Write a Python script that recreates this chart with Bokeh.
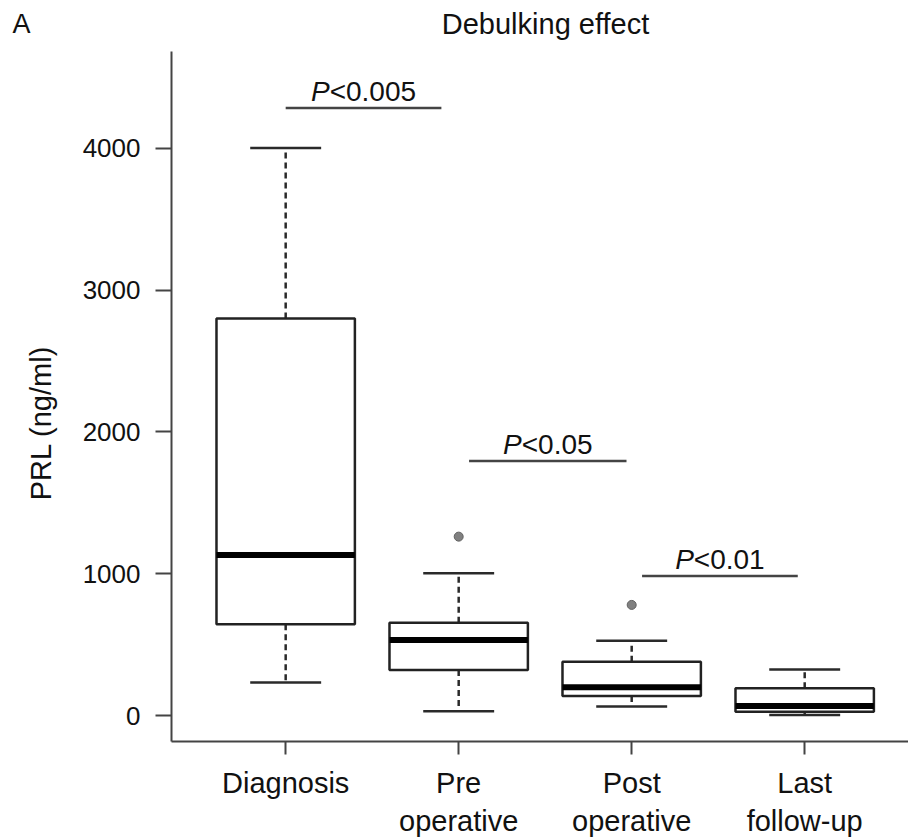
import math
from bokeh.plotting import figure
from bokeh.layouts import column, row
from bokeh.models import FixedTicker, ColumnDataSource
from bokeh.core.properties import value
from bokeh.embed import file_html
from bokeh.resources import INLINE

# ---- data ----
categories = ["Diagnosis", "Pre\noperative", "Post\noperative", "Last\nfollow-up"]
positions = [1, 2, 3, 4]
whisker_low = [235, 33, 66, 7]
q1 = [645, 324, 141, 30]
median = [1134, 535, 202, 70]
q3 = [2800, 657, 382, 195]
whisker_high = [4000, 1005, 530, 328]
outlier_x = [2, 3]
outlier_y = [1263, 782]
y_ticks = [0, 1000, 2000, 3000, 4000]

p_x0 = [1.0, 2.06, 3.06]
p_x1 = [1.9, 2.97, 3.96]
p_y = [4282, 1796, 986]
p_labels = ["<0.005", "<0.05", "<0.01"]

title_text = "Debulking effect"
panel_letter = "A"
y_label = "PRL (ng/ml)"

FONT = "Liberation Sans"
TXT = "#111111"
AX = "#444444"

HEADER_H = 44
STRIP_W = 70
TOTAL_W = 908


def blank(w, h, xr, yr):
    f = figure(width=w, height=h, x_range=xr, y_range=yr,
               output_backend="svg", toolbar_location=None,
               min_border=0, background_fill_color="white",
               border_fill_color="white")
    f.axis.visible = False
    f.grid.visible = False
    f.outline_line_color = None
    return f


# header row: panel letter and title
head = blank(TOTAL_W, HEADER_H, (0, TOTAL_W), (0, HEADER_H))
head.text(x=[12], y=[HEADER_H - 23.5], text=[panel_letter],
          text_align="left", text_baseline="middle",
          text_font=value(FONT), text_font_size="27px", text_color=TXT)
head.text(x=[545], y=[HEADER_H - 23.5], text=[title_text],
          text_align="center", text_baseline="middle",
          text_font=value(FONT), text_font_size="29px", text_color=TXT)

# main plot
MAIN_TOP = 7
FRAME_H = 690
FRAME_W = 737
MAIN_LEFT = 171 - STRIP_W
MAIN_BOTTOM = 839 - HEADER_H - MAIN_TOP - FRAME_H

p = figure(frame_width=FRAME_W, frame_height=FRAME_H,
           x_range=(0.34, 4.60), y_range=(-180, 4680),
           output_backend="svg", toolbar_location=None,
           min_border_left=MAIN_LEFT, min_border_right=0,
           min_border_top=MAIN_TOP, min_border_bottom=MAIN_BOTTOM,
           background_fill_color="white", border_fill_color="white")
p.outline_line_color = None
p.xgrid.visible = False
p.ygrid.visible = False

for ax in (p.xaxis[0], p.yaxis[0]):
    ax.axis_line_width = 2
    ax.axis_line_color = AX
    ax.major_tick_line_width = 2
    ax.major_tick_line_color = AX
    ax.major_tick_in = 0
    ax.minor_tick_line_color = None
    ax.major_label_text_font = FONT
    ax.major_label_text_color = TXT

p.xaxis.ticker = FixedTicker(ticks=positions)
p.xaxis.major_label_overrides = {pos: lab for pos, lab in zip(positions, categories)}
p.xaxis.major_tick_out = 13
p.xaxis.major_label_standoff = 12
p.xaxis.major_label_text_font_size = "29px"

p.yaxis.ticker = FixedTicker(ticks=y_ticks)
p.yaxis.major_tick_out = 16
p.yaxis.major_label_standoff = 15
p.yaxis.major_label_text_font_size = "26px"

half_box = 0.4
half_cap = 0.205
src = ColumnDataSource(dict(
    x=positions,
    left=[x - half_box for x in positions],
    right=[x + half_box for x in positions],
    cl=[x - half_cap for x in positions],
    cr=[x + half_cap for x in positions],
    lo=whisker_low, q1=q1, med=median, q3=q3, hi=whisker_high,
))

WH = "#2a2a2a"
p.segment(x0="x", y0="q3", x1="x", y1="hi", source=src,
          line_color=WH, line_width=2.5, line_dash="6 4")
p.segment(x0="x", y0="q1", x1="x", y1="lo", source=src,
          line_color=WH, line_width=2.5, line_dash="6 4")
p.segment(x0="cl", y0="hi", x1="cr", y1="hi", source=src,
          line_color=WH, line_width=2.5)
p.segment(x0="cl", y0="lo", x1="cr", y1="lo", source=src,
          line_color=WH, line_width=2.5)
p.quad(left="left", right="right", bottom="q1", top="q3", source=src,
       fill_color="white", line_color="#222222", line_width=2.5)
p.segment(x0="left", y0="med", x1="right", y1="med", source=src,
          line_color="black", line_width=6, line_cap="butt")
p.scatter(outlier_x, outlier_y, size=9, marker="circle",
          fill_color="#808080", line_color="#606060", line_width=1)

# significance bars
p.segment(x0=p_x0, y0=p_y, x1=p_x1, y1=p_y, line_color=AX, line_width=2.5)

PFS = 28
pfs = f"{PFS}px"
wP = 0.667 * PFS
char_w = {"<": 0.584, "0": 0.556, ".": 0.278, "5": 0.556, "1": 0.556}
cx = [(a + b) / 2 for a, b in zip(p_x0, p_x1)]
ty = [y + 118 for y in p_y]
offs = []
for lab in p_labels:
    wr = sum(char_w[c] for c in lab) * PFS
    offs.append(-(wP + wr) / 2 + wP)
tsrc = ColumnDataSource(dict(x=cx, y=ty, lab=p_labels, off=offs))
p.text(x="x", y="y", text=value("P"), x_offset="off", source=tsrc,
       text_align="right", text_baseline="alphabetic",
       text_font=value(FONT), text_font_style="italic",
       text_font_size=pfs, text_color=TXT)
p.text(x="x", y="y", text="lab", x_offset="off", source=tsrc,
       text_align="left", text_baseline="alphabetic",
       text_font=value(FONT), text_font_size=pfs, text_color=TXT)

# left strip with the y-axis title
STRIP_H = MAIN_TOP + FRAME_H + MAIN_BOTTOM
strip = blank(STRIP_W, STRIP_H, (0, STRIP_W), (0, STRIP_H))
strip.text(x=[40], y=[STRIP_H - 428], text=[y_label],
           angle=math.pi / 2, text_align="center", text_baseline="middle",
           text_font=value(FONT), text_font_size="29px", text_color=TXT)

layout = column(head, row(strip, p, spacing=0), spacing=0)
open("out.html", "w").write(file_html(layout, INLINE))
